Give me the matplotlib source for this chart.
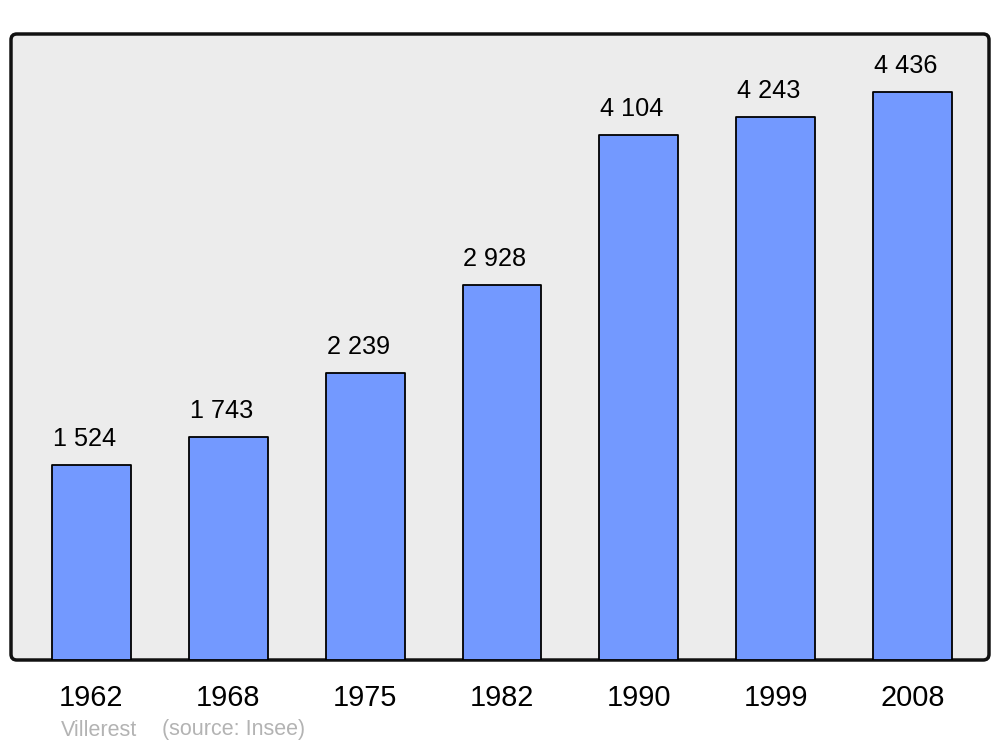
import matplotlib.pyplot as plt
from matplotlib.patches import FancyBboxPatch

years = ["1962", "1968", "1975", "1982", "1990", "1999", "2008"]
population = [1524, 1743, 2239, 2928, 4104, 4243, 4436]

plt.rcParams['font.family'] = ['Liberation Sans', 'DejaVu Sans']

fig = plt.figure(figsize=(10, 7.47), dpi=100)
ax = fig.add_axes([0.011, (747 - 660) / 747, 0.978, (660 - 34) / 747])
ax.patch.set_visible(False)
for s in ax.spines.values():
    s.set_visible(False)

# rounded frame with grey background
frame = FancyBboxPatch((0, 0), 1, 1, boxstyle="round,pad=0,rounding_size=0.006",
                       transform=ax.transAxes, facecolor='#ececec',
                       edgecolor='#111111', linewidth=2.5, zorder=0, clip_on=False,
                       mutation_aspect=978 / 626)
ax.add_patch(frame)

x = list(range(len(years)))
bars = ax.bar(x, population, width=0.577, color='#7399ff', edgecolor='black',
              linewidth=1.3, zorder=2)
for b in bars:
    b.set_joinstyle('round')

for xi, v in zip(x, population):
    ax.annotate(f"{v:,}".replace(",", " "), (xi, v), xytext=(-5, 10),
                textcoords='offset points', ha='center', va='bottom',
                fontsize=18.2, color='black')

ax.set_xlim(-0.588, 6.559)
ax.set_ylim(0, 4889)
ax.set_xticks(x)
ax.set_xticklabels(years, fontsize=20.8)
ax.tick_params(axis='x', length=0, pad=17)
ax.set_yticks([])

fig.text(0.061, (747 - 730) / 747, "Villerest", fontsize=15.5,
         color='#b3b3b3', va='center')
fig.text(0.162, (747 - 730) / 747, "(source: Insee)", fontsize=15.5,
         color='#b3b3b3', va='center')

fig.savefig("out.png", dpi=100)
